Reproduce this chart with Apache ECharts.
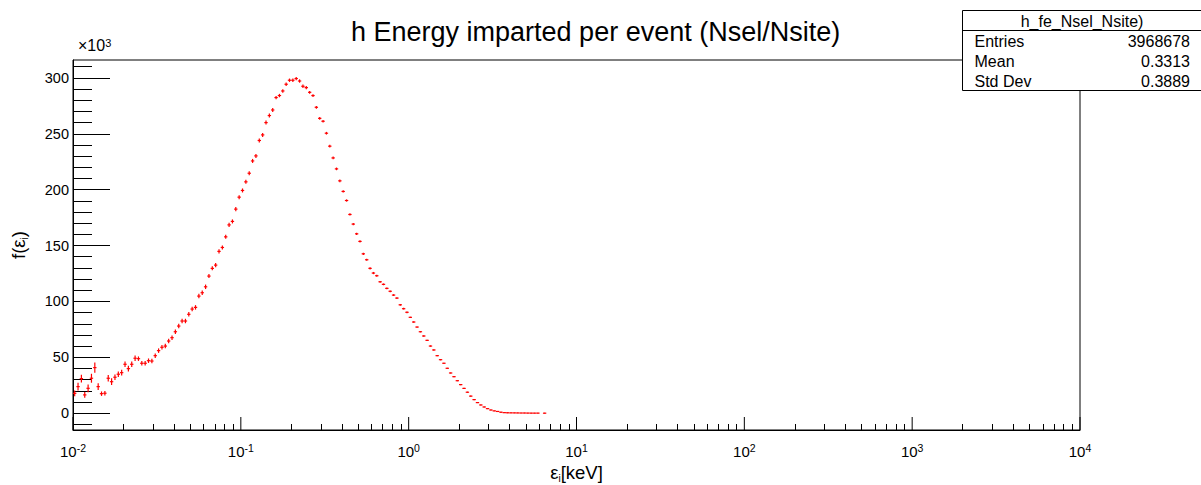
<!DOCTYPE html>
<html><head><meta charset="utf-8">
<script src="https://cdn.jsdelivr.net/npm/echarts@6/dist/echarts.min.js"></script>
<style>html,body{margin:0;padding:0;background:#fff}#c{width:1201px;height:485px}</style>
</head><body><div id="c"></div><script>
// Histogram binning: log bins, 50 per decade starting at 1e-2 keV
const BIN_XMIN = 0.01;
const BINS_PER_DECADE = 50;
// Bin contents f(eps_i) in units of 10^3, bin 0 .. 140
const counts = [
 17.8,23.8,31,16.4,22.3,31.3,40.8,23.8,17.5,17.9,
 31.3,28.2,32.2,34.9,36.3,43.8,39.9,43.8,49.2,48.8,
 44.7,44.7,47,46.7,51.5,56,59,60.1,64.6,67.6,
 72.9,78,82.5,82.5,88.5,93.2,94.7,104.8,107.8,113.1,
 122.7,129.6,132.5,144.8,148.3,157.8,168.5,171.6,182.6,193.3,
 199.3,207,214.7,225.7,230.2,244,249,260,266.3,271.3,
 282.4,284.2,288.3,294.3,297.9,297.9,299.4,297.2,292.5,291.3,
 287.1,284.2,273.7,263.8,261.2,250.5,238.9,228.4,218.6,207.9,
 198.4,190.3,177.8,169.2,160.5,153.7,142.6,137.3,129.6,125.4,
 123,117.6,115.3,111.7,109.1,105.7,103,97,93.5,90.3,
 85.8,81.6,77.1,72.9,69.1,65.2,60.1,56.6,51.5,47.9,
 44.7,40.2,36,32.7,29.1,25.6,22.2,18.8,15.3,12.2,
 9.5,7.4,5.6,4.1,2.9,2.1,1.6,0.9,0.5,0.4,
 0.35,0.3,0.25,0.2,0.2,0.15,0.1,0.1,0.1,null,
 0.05
];
// Bin errors (same units)
const errors = [
 2.5,3.5,3.5,2.5,3.5,4,4.5,3,2,2,
 3,3,2.5,2.5,2.5,2.5,2.5,2.5,2.5,2,
 2,2,2,2,2,2,2,2,2,2,
 2,2,2,2,2,2,2,2,2,2,
 1.8,1.8,1.8,1.8,1.8,1.8,1.8,1.8,1.8,1.8,
 1.8,1.8,1.8,1.8,1.8,1.8,1.8,1.8,1.8,1.8,
 1.5,1.5,1.5,1.5,1.5,1.5,1.5,1.5,1.5,1.5,
 1.2,1.2,1.2,1.2,1.2,1.2,1.2,1.2,1.2,1.2,
 1,1,1,1,1,1,1,1,1,1,
 0.8,0.8,0.8,0.8,0.8,0.8,0.8,0.8,0.8,0.8,
 0.6,0.6,0.6,0.6,0.6,0.6,0.6,0.6,0.6,0.6,
 0.5,0.5,0.5,0.5,0.5,0.5,0.5,0.5,0.5,0.5,
 0.4,0.4,0.4,0.4,0.4,0.4,0.4,0.4,0.4,0.4,
 0.3,0.3,0.3,0.3,0.3,0.3,0.3,0.3,0.3,0.3,
 0.3
];
const xMajorTicks = [0.01,0.1,1,10,100,1000,10000];
const xMinorMantissas = [2,3,4,5,6,7,8,9];
const yMajorTicks = [0,50,100,150,200,250,300];
const yMinorTicks = [-10,10,20,30,40,60,70,80,90,110,120,130,140,160,170,180,190,210,220,230,240,260,270,280,290,310];
const titleText = 'h Energy imparted per event (Nsel/Nsite)';
const statsTitle = 'h_fe_Nsel_Nsite)';
const statsLabels = ['Entries','Mean','Std Dev'];
const statsValues = ['3968678','0.3313','0.3889'];

const FONT = 'Liberation Sans, Arial, sans-serif';
const xMinorTicks = [];
xMajorTicks.slice(0,-1).forEach(d => xMinorMantissas.forEach(m => xMinorTicks.push(d*m)));

const seriesData = [];
counts.forEach((v,i) => {
  if (v === null) return;
  const xc = BIN_XMIN * Math.pow(10, (i + 0.5) / BINS_PER_DECADE);
  seriesData.push([xc, v, errors[i]]);
});

const supRich = {
  b: {fontSize: 15, lineHeight: 18, color: '#000', fontFamily: FONT},
  s: {fontSize: 10.5, lineHeight: 10, verticalAlign: 'top', color: '#000', fontFamily: FONT}
};
function powLabel(v){
  const e = Math.round(Math.log10(v));
  return '{b|10}{s|' + e + '}';
}
const titleRich = {
  b: {fontSize: 18.5, lineHeight: 22, color: '#000', fontFamily: FONT},
  s: {fontSize: 10, lineHeight: 10, verticalAlign: 'bottom', color: '#000', fontFamily: FONT}
};

const chart = echarts.init(document.getElementById('c'), null, {renderer: 'svg'});
const grid = {left: 73, right: 121, top: 60, bottom: 55, outerBoundsMode: 'none', containLabel: false,
  show: true, borderColor: '#000', borderWidth: 1, backgroundColor: 'transparent'};
const axisLine = {show: true, onZero: false, lineStyle: {color: '#000', width: 1}};
const hiddenLine = {show: false, onZero: false};

chart.setOption({
  animation: false,
  backgroundColor: '#fff',
  title: {
    text: titleText, left: 346, top: 13,
    textStyle: {fontFamily: FONT, fontSize: 27, fontWeight: 'normal', color: '#000'}
  },
  grid: grid,
  xAxis: [{
    type: 'log', logBase: 10, min: 0.01, max: 10000, position: 'bottom', splitNumber: 6,
    axisLine: axisLine,
    axisTick: {show: false},
    axisLabel: {show: true, customValues: xMajorTicks, margin: 12, formatter: powLabel, rich: supRich},
    splitLine: {show: false}, minorTick: {show: false},
    name: '{b|ε}{s|i}{b|[keV]}', nameLocation: 'middle', nameGap: 31,
    nameTextStyle: {rich: titleRich, fontSize: 18.5, fontFamily: FONT, color: '#000'}
  }, {
    type: 'log', logBase: 10, min: 0.01, max: 10000, position: 'bottom',
    axisLine: hiddenLine,
    axisTick: {show: true, inside: true, length: 6, customValues: xMinorTicks, lineStyle: {color: '#000'}},
    axisLabel: {show: false}, splitLine: {show: false}
  }],
  yAxis: [{
    type: 'value', min: -15, max: 316, position: 'left',
    axisLine: axisLine,
    axisTick: {show: true, inside: true, length: 37, customValues: yMajorTicks, lineStyle: {color: '#000'}},
    axisLabel: {show: true, customValues: yMajorTicks, margin: 4, fontSize: 14.5, fontFamily: FONT, color: '#000'},
    splitLine: {show: false},
    name: '{b|f(ε}{s|i}{b|)}', nameLocation: 'middle', nameGap: 44, nameRotate: 90,
    nameTextStyle: {rich: titleRich, fontSize: 18.5, fontFamily: FONT, color: '#000'}
  }, {
    type: 'value', min: -15, max: 316, position: 'left',
    axisLine: hiddenLine,
    axisTick: {show: true, inside: true, length: 19, customValues: yMinorTicks, lineStyle: {color: '#000'}},
    axisLabel: {show: false}, splitLine: {show: false}
  }],
  graphic: [{
    type: 'text', left: 78, top: 37,
    style: {text: '×10{s|3}', font: '16px ' + FONT, fill: '#000',
      rich: {s: {fontSize: 11, lineHeight: 11, verticalAlign: 'top', fill: '#000', fontFamily: FONT}}}
  }, {
    type: 'group', left: 960, top: 10,
    children: [
      {type: 'rect', shape: {x: 0.5, y: 0.5, width: 240, height: 80}, style: {fill: '#fff', stroke: '#000', lineWidth: 1}},
      {type: 'line', shape: {x1: 0.5, y1: 20.5, x2: 240.5, y2: 20.5}, style: {stroke: '#000', lineWidth: 1}},
      {type: 'text', x: 120, y: 11.5, style: {text: statsTitle, font: '16px ' + FONT, fill: '#000', align: 'center', verticalAlign: 'middle'}},
      ...statsLabels.map((t, k) => ({type: 'text', x: 12.5, y: 31.5 + k * 19.8, style: {text: t, font: '16px ' + FONT, fill: '#000', align: 'left', verticalAlign: 'middle'}})),
      ...statsValues.map((t, k) => ({type: 'text', x: 228, y: 31.5 + k * 19.8, style: {text: t, font: '16px ' + FONT, fill: '#000', align: 'right', verticalAlign: 'middle'}}))
    ]
  }],
  series: [{
    type: 'custom', xAxisIndex: 0, yAxisIndex: 0, clip: true,
    data: seriesData,
    encode: {x: 0, y: 1},
    renderItem: function(params, api){
      const xc = api.value(0), y = api.value(1), e = api.value(2);
      const h = Math.pow(10, 0.5 / BINS_PER_DECADE);
      const pL = api.coord([xc / h, y]), pR = api.coord([xc * h, y]);
      const pT = api.coord([xc, y + e]), pB = api.coord([xc, y - e]);
      const st = {stroke: '#ff0000', lineWidth: 1.2};
      return {type: 'group', children: [
        {type: 'line', shape: {x1: pL[0], y1: pL[1], x2: pR[0], y2: pR[1]}, style: st},
        {type: 'line', shape: {x1: pT[0], y1: pT[1], x2: pB[0], y2: pB[1]}, style: st}
      ]};
    }
  }, {
    // major decade ticks of the x axis (inside, ROOT style)
    type: 'custom', xAxisIndex: 0, yAxisIndex: 0, clip: false, silent: true,
    data: xMajorTicks.map(v => [v]),
    encode: {x: 0},
    renderItem: function(params, api){
      const cs = params.coordSys;
      const px = api.coord([api.value(0), 0])[0];
      const yb = cs.y + cs.height;
      return {type: 'line', shape: {x1: px, y1: yb, x2: px, y2: yb - 13}, style: {stroke: '#000', lineWidth: 1}};
    }
  }]
});
</script></body></html>
